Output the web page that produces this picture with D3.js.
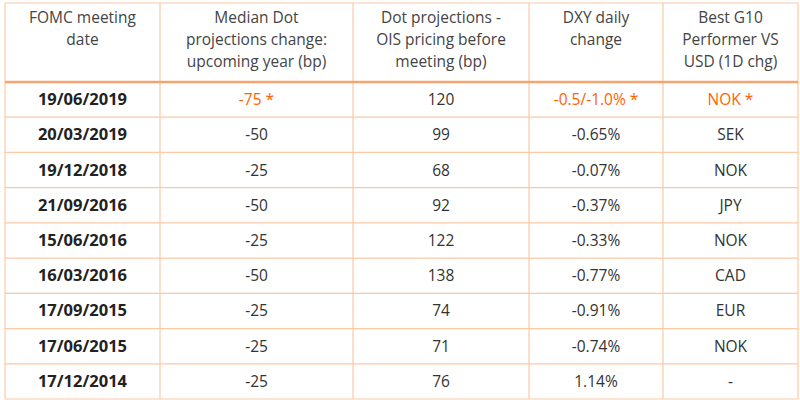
<!DOCTYPE html>
<html>
<head>
<meta charset="utf-8">
<script src="https://cdn.jsdelivr.net/npm/d3@7"></script>
<style>
  body { margin: 0; background: #fff; }
  svg text { font-family: "Open Sans", "Noto Sans", sans-serif; }
</style>
</head>
<body>
<div id="chart"></div>
<script>
const headers = [
  ['FOMC meeting', 'date'],
  ['Median Dot', 'projections change:', 'upcoming year (bp)'],
  ['Dot projections -', 'OIS pricing before', 'meeting (bp)'],
  ['DXY daily', 'change'],
  ['Best G10', 'Performer VS', 'USD (1D chg)'],
];
const dates = ['19/06/2019', '20/03/2019', '19/12/2018', '21/09/2016', '15/06/2016',
  '16/03/2016', '17/09/2015', '17/06/2015', '17/12/2014'];
const dotChange = ['-75 *', '-50', '-25', '-50', '-25', '-50', '-25', '-25', '-25'];
const oisPricing = [120, 99, 68, 92, 122, 138, 74, 71, 76];
const dxyChange = ['-0.5/-1.0% *', '-0.65%', '-0.07%', '-0.37%', '-0.33%', '-0.77%', '-0.91%', '-0.74%', '1.14%'];
const bestG10 = ['NOK *', 'SEK', 'NOK', 'JPY', 'NOK', 'CAD', 'EUR', 'NOK', '-'];

const W = 800;
const H = 404;
const tableLeft = 5;
const tableTop = 3;
const headerBottom = 82;
const tableBottom = 399;
const colEdges = [tableLeft, 160, 353, 529, 663, 798];

const gridColor = '#fbcaa5';
const thickColor = '#f6a46f';
const orange = '#ff6200';

const svg = d3.select('#chart')
  .append('svg')
  .attr('width', W)
  .attr('height', H);

const rows = dates.map((d, i) => [d, dotChange[i], oisPricing[i], dxyChange[i], bestG10[i]]);

const y = d3.scaleBand()
  .domain(d3.range(rows.length))
  .range([headerBottom, tableBottom]);

const colMid = (j) => (colEdges[j] + colEdges[j + 1]) / 2;

// grid lines
const grid = svg.append('g');
y.domain().slice(1).forEach((i) => {
  grid.append('line')
    .attr('x1', tableLeft).attr('x2', colEdges[5])
    .attr('y1', y(i)).attr('y2', y(i))
    .attr('stroke', gridColor).attr('stroke-width', 1.2);
});
colEdges.forEach((x) => {
  grid.append('line')
    .attr('x1', x).attr('x2', x)
    .attr('y1', tableTop).attr('y2', tableBottom)
    .attr('stroke', gridColor).attr('stroke-width', 1.2);
});
[tableTop, tableBottom].forEach((yy) => {
  grid.append('line')
    .attr('x1', tableLeft).attr('x2', colEdges[5])
    .attr('y1', yy).attr('y2', yy)
    .attr('stroke', gridColor).attr('stroke-width', 1.2);
});
grid.append('line')
  .attr('x1', tableLeft).attr('x2', colEdges[5])
  .attr('y1', headerBottom).attr('y2', headerBottom)
  .attr('stroke', thickColor).attr('stroke-width', 2.5);

// header
headers.forEach((lines, j) => {
  const t = svg.append('text')
    .attr('text-anchor', 'middle')
    .attr('font-size', 15.5)
    .attr('fill', '#444');
  lines.forEach((l, k) => {
    t.append('tspan')
      .attr('x', colMid(j))
      .attr('y', 23 + k * 22)
      .text(l);
  });
});

// body
rows.forEach((r, i) => {
  r.forEach((v, j) => {
    svg.append('text')
      .attr('x', colMid(j))
      .attr('y', y(i) + y.bandwidth() / 2 + 5.5)
      .attr('text-anchor', 'middle')
      .attr('font-size', j === 0 ? 16.5 : 15.5)
      .attr('font-weight', j === 0 ? 'bold' : 'normal')
      .attr('fill', i === 0 && j !== 0 && j !== 2 ? orange : (j === 0 ? '#222' : '#333'))
      .text(v);
  });
});
</script>
</body>
</html>
